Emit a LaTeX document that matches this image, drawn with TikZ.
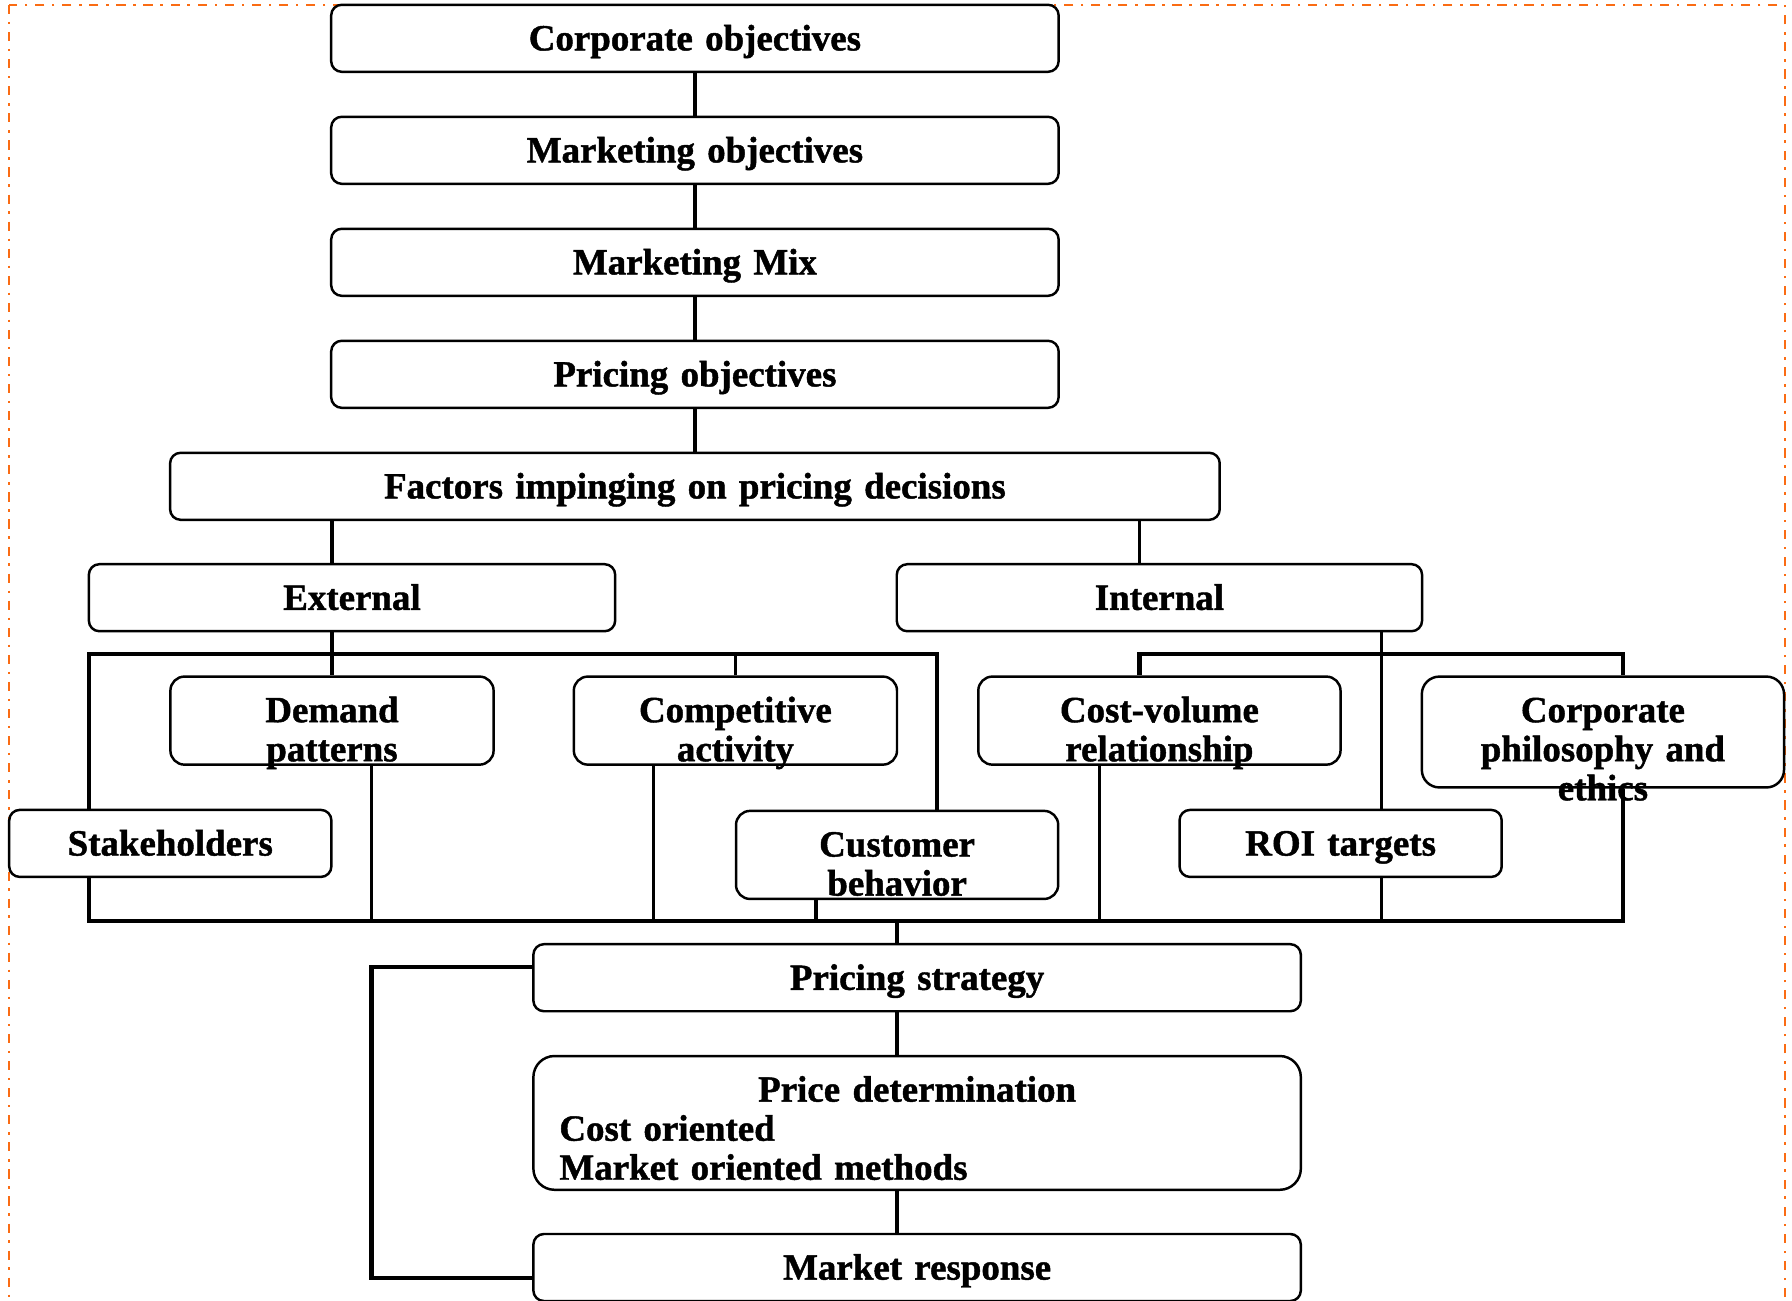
\documentclass[tikz,border=0pt]{standalone}
\usepackage{fontspec}
\setmainfont{Liberation Serif}[BoldFeatures={FakeBold=1.2}]
\definecolor{frameorange}{RGB}{250,108,20}
\tikzstyle{box} = [draw=black, line width=0.7pt, rounded corners=3pt, inner sep=0pt,
  align=center, font=\bfseries\fontsize{10.5}{11.1}\selectfont,
  text height=0.456cm, text depth=0.214cm]
\tikzstyle{tallbox} = [box, rounded corners=4pt, text depth=0.424cm]
\tikzstyle{link} = [line width=1pt]
\tikzstyle{bus} = [line width=1.2pt]

\begin{document}
\begin{tikzpicture}[x=0.01cm, y=-0.01cm]
  \useasboundingbox (0,0) rectangle (1792,1300);
  \draw[frameorange, line width=0.8pt, dash pattern=on 2.6pt off 2.2pt on 0.7pt off 2.2pt]
    (9,5) rectangle (1785,1320);

  % objectives chain
  \node[box, text width=7.27cm] (corpobj) at (694.9,38.3) {Corporate objectives};
  \node[box, text width=7.27cm] (mktobj) at (694.9,150.3) {Marketing objectives};
  \node[box, text width=7.27cm] (mktmix) at (694.9,262.3) {Marketing Mix};
  \node[box, text width=7.27cm] (priceobj) at (694.9,374.3) {Pricing objectives};
  \node[box, text width=10.49cm] (factors) at (694.9,486.3) {Factors impinging on pricing decisions};
  \node[box, text width=5.26cm] (external) at (352,597.7) {External};
  \node[box, text width=5.25cm] (internal) at (1159.4,597.7) {Internal};

  % factors
  \node[tallbox, text width=3.23cm] (demand) at (332,720.6) {Demand\\patterns};
  \node[tallbox, text width=3.23cm] (compet) at (735.4,720.6) {Competitive\\activity};
  \node[tallbox, text width=3.62cm] (costvol) at (1159.4,720.6) {Cost-volume\\relationship};
  \node[box, rounded corners=5pt, text depth=0.652cm, text width=3.62cm] (corpphil) at (1602.9,732)
    {Corporate\\philosophy and\\ethics};
  \node[box, text width=3.22cm] (stake) at (170.3,843.4) {Stakeholders};
  \node[tallbox, text width=3.22cm] (custbeh) at (897.1,854.9) {Customer\\behavior};
  \node[box, text width=3.22cm] (roi) at (1340.6,843.4) {ROI targets};

  % strategy chain
  \node[box, text width=7.67cm] (pstrat) at (917.1,977.7) {Pricing strategy};
  \node[box, rounded corners=6pt, text depth=0.881cm, text width=7.67cm] (pdeterm) at (917.1,1122.9)
    {Price determination\\\makebox[7.15cm][l]{Cost oriented}\\\makebox[7.15cm][l]{Market oriented methods}};
  \node[box, text width=7.67cm] (mresp) at (917.1,1267.5) {Market response};

  \coordinate (ebusL) at (89.1,653.7);
  \coordinate (ebusR) at (937.1,653.7);
  \coordinate (ibusL) at (1139.4,653.7);
  \coordinate (ibusM) at (1381.7,653.7);
  \coordinate (ibusR) at (1622.9,653.7);
  \coordinate (botL) at (89.1,921.1);
  \coordinate (botR) at (1622.9,921.1);
  \coordinate (fbTop) at (371.4,966.9);
  \coordinate (fbBot) at (371.4,1277.7);

  \draw[link] (corpobj) -- (mktobj);
  \draw[link] (mktobj) -- (mktmix);
  \draw[link] (mktmix) -- (priceobj);
  \draw[link] (priceobj) -- (factors);
  \draw[link] (factors.south -| demand) -- (external.north -| demand);
  \draw[link] (external.south -| demand) -- (demand.north);
  \draw[link] (factors.south -| ibusL) -- (internal.north -| ibusL);
  \draw[link] (internal.south -| ibusM) -- (roi.north -| ibusM);

  % buses
  \draw[bus] (stake.north -| ebusL) -- (ebusL) -- (ebusR) -- (custbeh.north -| ebusR);
  \draw[link] (compet.north) -- (compet.north |- ebusL);
  \draw[bus] (costvol.north -| ibusL) -- (ibusL) -- (ibusR) -- (corpphil.north -| ibusR);
  \draw[bus] (stake.south -| botL) -- (botL) -- (botR) -- (corpphil.south -| botR);
  \foreach \n/\x in {demand/371.4, compet/653.7, custbeh/816, costvol/1099.4, roi/1381.7} {
    \coordinate (d\n) at (\x,921.1);
    \draw[link] (\n.south -| d\n) -- (d\n);
  }

  \draw[link] (custbeh |- botL) -- (pstrat.north -| custbeh);
  \draw[link] (pstrat.south -| custbeh) -- (pdeterm.north -| custbeh);
  \draw[link] (pdeterm.south -| custbeh) -- (mresp.north -| custbeh);
  \draw[bus] (mresp.west |- fbBot) -- (fbBot) -- (fbTop) -- (pstrat.west |- fbTop);
\end{tikzpicture}
\end{document}
